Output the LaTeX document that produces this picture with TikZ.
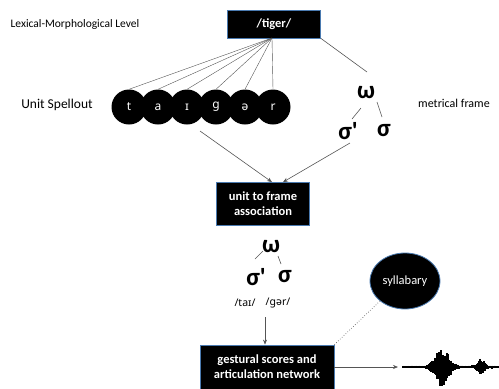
\documentclass[tikz,border=0pt]{standalone}
\usepackage{fontspec}
\setmainfont{Carlito}
\newfontfamily\ipafont{Noto Sans}
\usetikzlibrary{shapes.geometric,arrows.meta}
\definecolor{boxedge}{HTML}{4A7AB0}
\definecolor{linegray}{HTML}{555555}
\tikzset{
  blackbox/.style={rectangle,fill=black,draw=boxedge,line width=0.8pt,text=white,
    font=\bfseries\fontsize{12.5}{15}\selectfont,align=center,inner sep=0pt},
  phon/.style={circle,fill=black,minimum size=35pt,inner sep=0pt,text=white,
    font=\ipafont\bfseries\fontsize{12}{12}\selectfont},
  greek/.style={font=\bfseries\fontsize{25}{25}\selectfont,inner sep=0pt},
  lbl/.style={font=\fontsize{11.5}{13}\selectfont,inner sep=0pt},
  ipa/.style={font=\ipafont\fontsize{10.5}{12}\selectfont,inner sep=0pt},
  conn/.style={draw=linegray,line width=0.6pt},
  arr/.style={conn,-{Stealth[length=5pt,width=4pt]}},
}
\begin{document}
\begin{tikzpicture}[x=1pt,y=-1pt]
\useasboundingbox (0,0) rectangle (499,389);
% labels
\node[lbl] (lexlbl) at (75,24) {Lexical-Morphological Level};
\node[lbl,font=\fontsize{13.5}{15}\selectfont] (uslbl) at (57,105) {Unit Spellout};
\node[lbl,font=\fontsize{12}{14}\selectfont] (mflbl) at (454,103) {metrical frame};
% tiger box
\node[blackbox,minimum width=93pt,minimum height=28pt] (tiger) at (274,24) {/tiger/};
\coordinate (fan) at (272,38);
% phoneme circles
\node[phon] (c1) at (129,107) {t};
\node[phon] (c2) at (158,107) {a};
\node[phon] (c3) at (187,107) {ɪ};
\node[phon] (c4) at (216,107) {g};
\node[phon] (c5) at (245,107) {ə};
\node[phon] (c6) at (273,107) {r};
\foreach \c in {c1,c2,c3,c4,c5,c6} \draw[conn,line width=0.4pt] (fan) -- (\c.north);
% top metrical tree
\node[greek] (om1) at (366,93) {ω};
\node[greek] (sp1) at (348,131) {σ\textquotesingle};
\node[greek] (s1) at (384,131) {σ};
\draw[conn] (tiger.south east) -- (367,72) coordinate (omtop);
\draw[conn] (352,119) coordinate (sp1t) -- (361,108) coordinate (om1l);
\draw[conn] (377,102) coordinate (om1r) -- (382,117) coordinate (s1t);
% unit to frame box
\node[blackbox,minimum width=93pt,minimum height=43pt] (unit) at (263,204) {unit to frame\\association};
\coordinate (csp) at (200,131);
\coordinate (cmf) at (350,143);
\draw[arr] (csp) -- ([xshift=9pt]unit.north);
\draw[arr] (cmf) -- ([xshift=20pt]unit.north);
% middle tree
\node[greek] (om2) at (271,247) {ω};
\node[greek] (sp2) at (256,277) {σ\textquotesingle};
\node[greek] (s2) at (285,277) {σ};
\draw[conn] (255,259) coordinate (sp2t) -- (263,251) coordinate (om2l);
\draw[conn] (278,256) coordinate (om2r) -- (281,264) coordinate (s2t);
\node[ipa] (tai) at (245,303) {/taɪ/};
\node[ipa] (ger) at (278,303) {/gər/};
% gestural box
\node[blackbox,minimum width=134pt,minimum height=44pt] (gest) at (267,367) {gestural scores and\\articulation network};
\coordinate (down) at (265,317);
\draw[arr] (down) -- (down |- gest.north);
% syllabary
\node[ellipse,fill=black,draw=boxedge,line width=0.8pt,minimum width=70pt,minimum height=56pt,
  inner sep=0pt,text=white,font=\fontsize{12.5}{14}\selectfont] (syl) at (405,281) {syllabary};
\draw[conn,dotted,line width=0.7pt] (gest.north east) -- (syl.south west);
% waveform
\coordinate (wave) at (398,367);
\draw[arr] (gest.east) -- (wave);
\pgfmathsetseed{11}
\draw[line width=1.3pt] (403,367) -- (499,367);
\foreach \i in {0,...,95} {
  \pgfmathsetmacro\xx{403+\i}
  \pgfmathsetmacro\aa{(1.5+19*exp(-((\xx-442)/9)^2)+8*exp(-((\xx-481)/4.5)^2))*(0.45+0.55*rnd)}
  \pgfmathsetmacro\bb{(1.5+19*exp(-((\xx-442)/9)^2)+7*exp(-((\xx-481)/4.5)^2))*(0.45+0.55*rnd)}
  \draw[line width=1.1pt] (\xx,367-\aa) -- (\xx,367+\bb);
}
\end{tikzpicture}
\end{document}
